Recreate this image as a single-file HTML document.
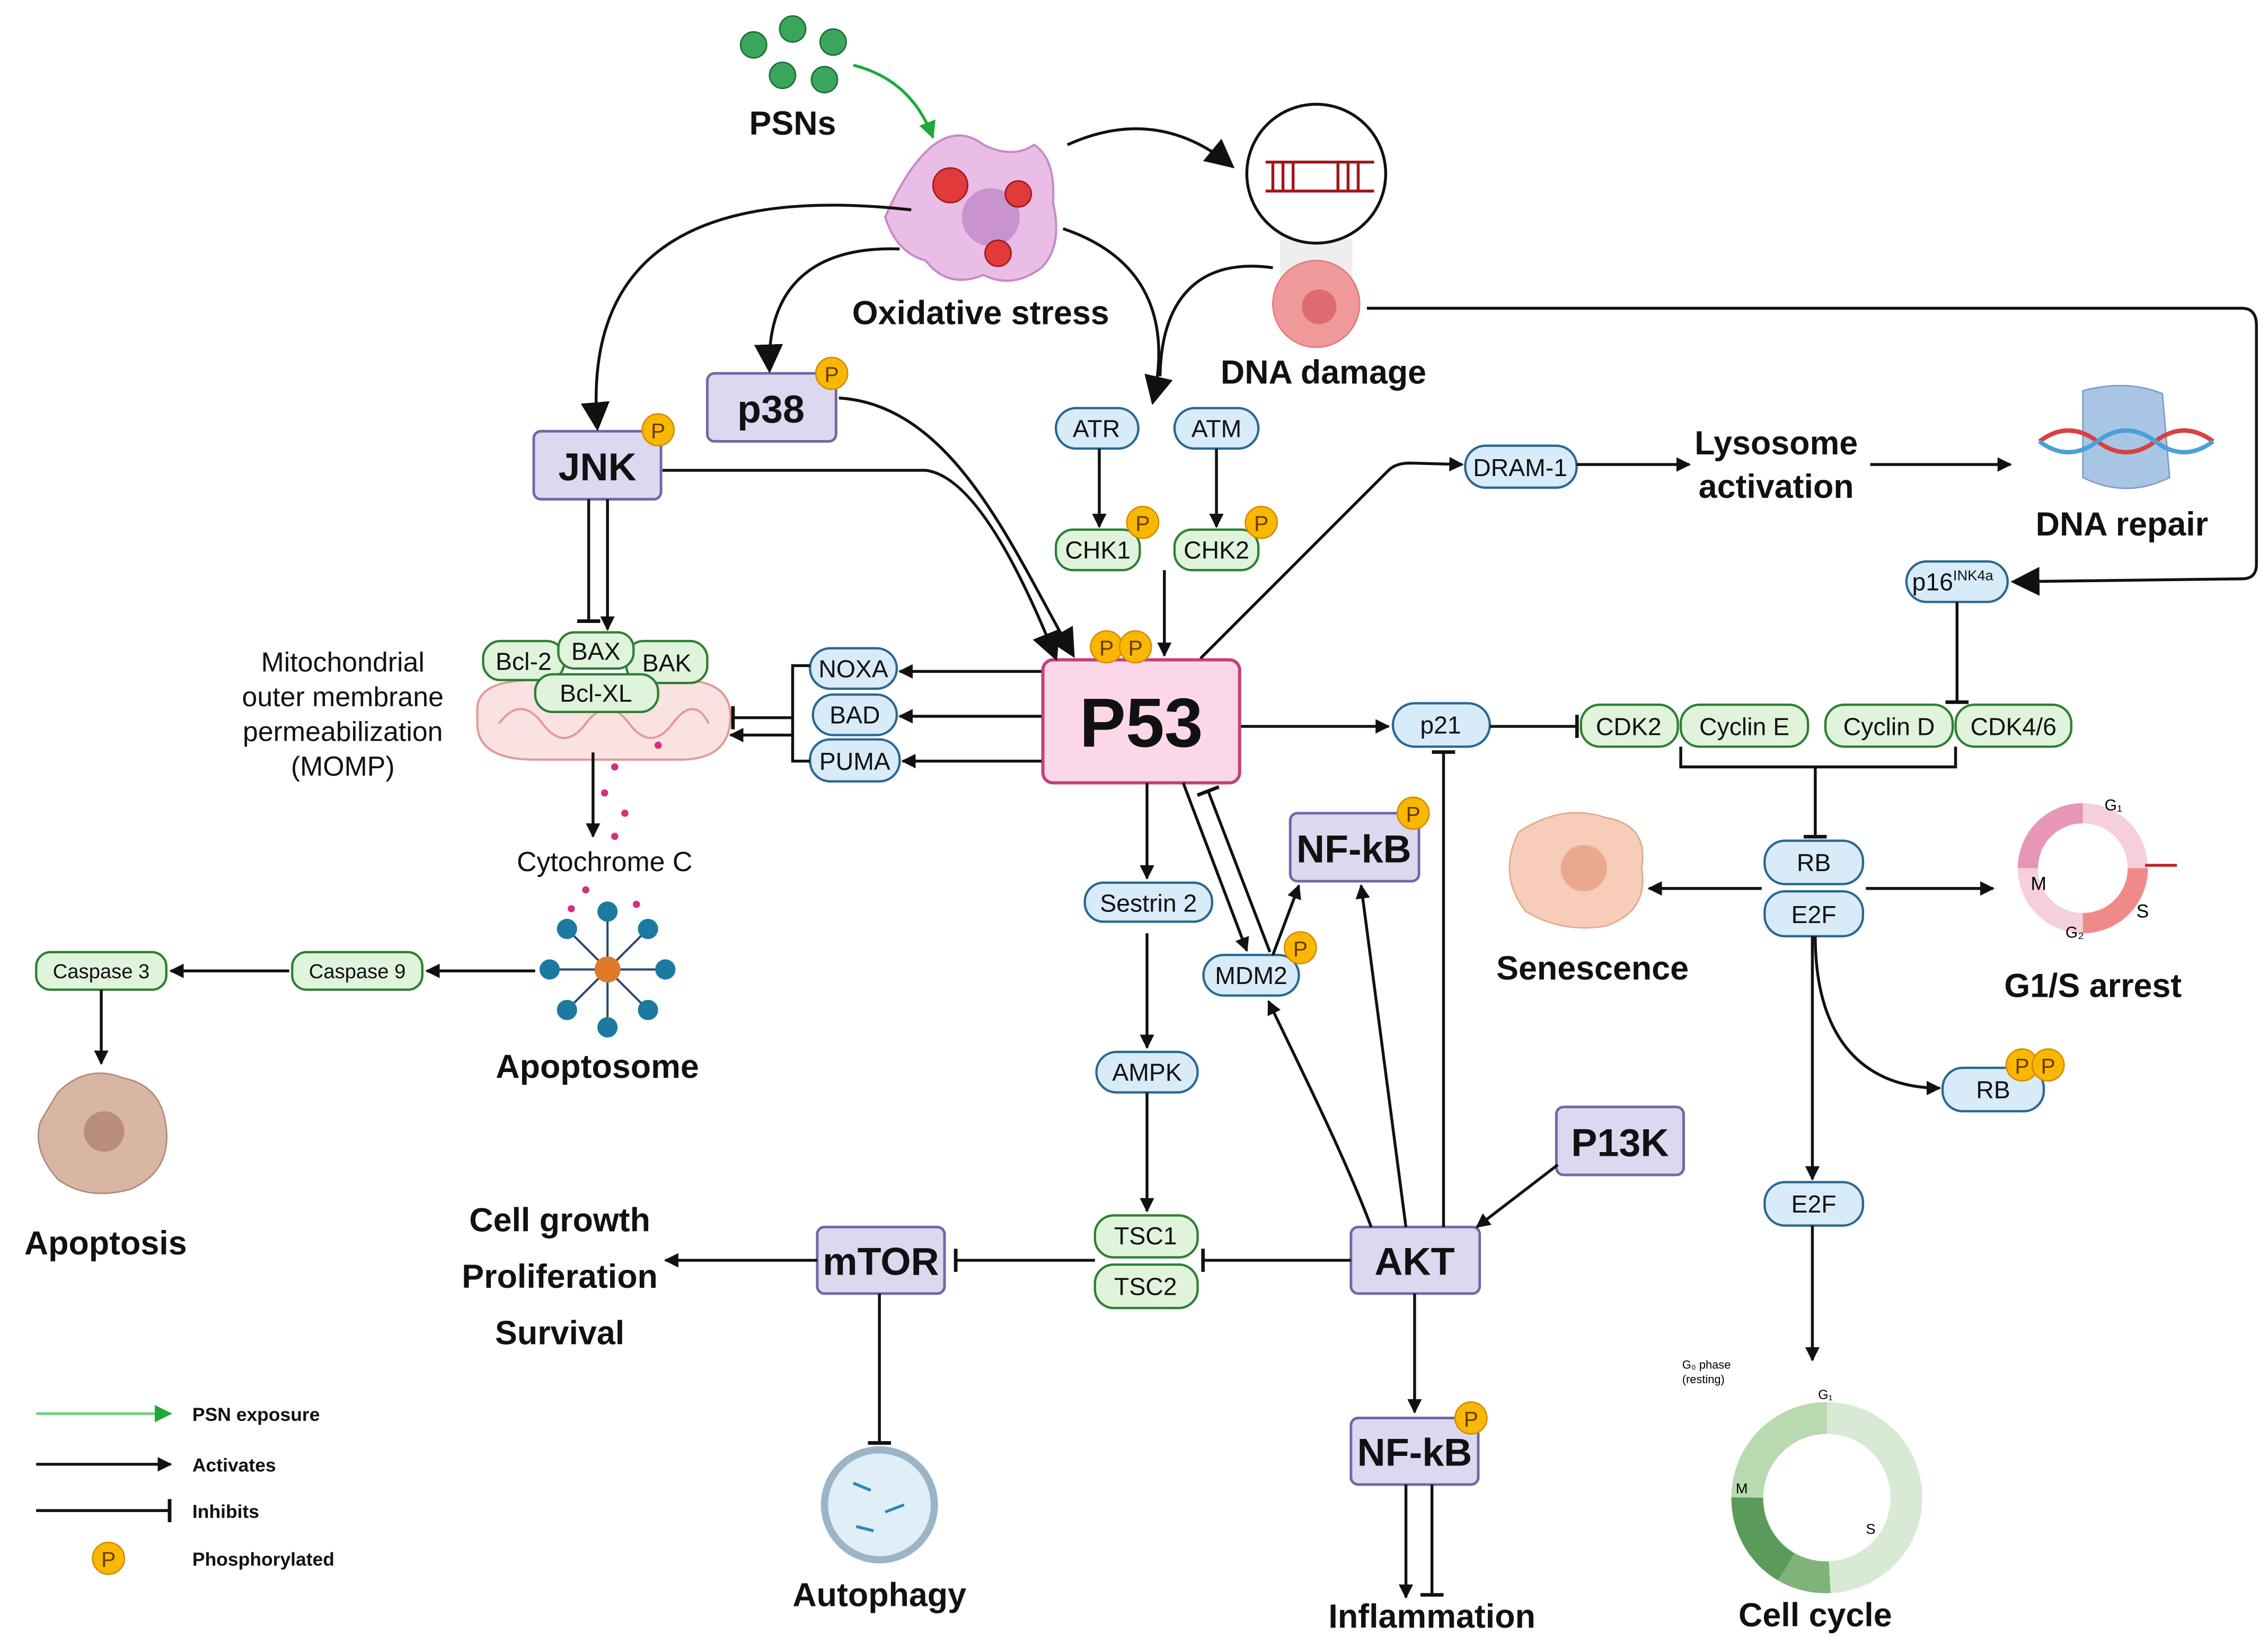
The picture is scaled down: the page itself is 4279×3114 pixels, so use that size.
<!DOCTYPE html>
<html><head><meta charset="utf-8"><style>
html,body{margin:0;padding:0;background:#fff;}
svg{display:block;}
text{font-family:"Liberation Sans",sans-serif;}
.b{font-weight:bold;fill:#111;font-size:23px;text-anchor:middle;}
.n{font-size:17px;fill:#111;text-anchor:middle;}
.blue{fill:#d8ebf8;stroke:#2a6892;stroke-width:1.6;}
.green{fill:#e0f4dc;stroke:#2f7f34;stroke-width:1.6;}
.purp{fill:#dcd8ef;stroke:#6d68a6;stroke-width:1.8;}
.l{fill:none;stroke:#111;stroke-width:2;}
</style></head><body>
<svg width="4279" height="3114" viewBox="0 0 1568 1141" xmlns="http://www.w3.org/2000/svg">
<defs>
<marker id="a" markerWidth="10" markerHeight="10" refX="9" refY="5" orient="auto" markerUnits="userSpaceOnUse"><path d="M0,0 L10,5 L0,10 z" fill="#111"/></marker>
<marker id="A" markerWidth="20" markerHeight="20" refX="18" refY="10" orient="auto" markerUnits="userSpaceOnUse"><path d="M0,0 L20,10 L0,20 z" fill="#111"/></marker>
<marker id="g" markerWidth="12" markerHeight="12" refX="11" refY="6" orient="auto" markerUnits="userSpaceOnUse"><path d="M0,0 L12,6 L0,12 z" fill="#1fa83a"/></marker>
<marker id="t" markerWidth="4" markerHeight="16" refX="2" refY="8" orient="auto" markerUnits="userSpaceOnUse"><rect x="0" y="0" width="2.5" height="16" fill="#111"/></marker>
<g id="P"><circle r="11" fill="#f9b800" stroke="#d98a00" stroke-width="1"/><text y="6" style="font-size:15px" text-anchor="middle" fill="#6b3a00">P</text></g>
</defs>

<!-- PSNs -->
<g fill="#3aa65c" stroke="#1a6e36">
<circle cx="521" cy="31" r="9"/><circle cx="548" cy="20" r="9"/><circle cx="576" cy="29" r="9"/>
<circle cx="541" cy="52" r="9"/><circle cx="570" cy="55" r="9"/></g>
<text class="b" x="548" y="93">PSNs</text>
<path d="M590,45 Q630,55 645,95" fill="none" stroke="#1fa83a" stroke-width="2" marker-end="url(#g)"/>

<!-- oxidative stress cell -->
<path d="M640,105 Q660,85 680,100 Q700,110 715,100 Q730,110 728,140 Q735,170 720,185 Q700,200 680,190 Q655,200 640,180 Q620,175 612,150 Q625,120 640,105 z" fill="#e9bde6" stroke="#c889c6" stroke-width="1.5"/>
<circle cx="685" cy="150" r="20" fill="#c993cf"/>
<g fill="#e03a3a" stroke="#a01818"><circle cx="657" cy="128" r="12"/><circle cx="704" cy="134" r="9"/><circle cx="690" cy="175" r="9"/></g>
<text class="b" x="678" y="224">Oxidative stress</text>

<!-- DNA damage -->
<path d="M885,165 L935,165 L935,200 L885,200 z" fill="#ddd" opacity="0.5"/>
<circle cx="910" cy="120" r="48" fill="#fff" stroke="#111" stroke-width="2"/>
<g stroke="#a01818" stroke-width="2"><line x1="875" y1="112" x2="950" y2="112"/><line x1="875" y1="132" x2="950" y2="132"/>
<line x1="880" y1="112" x2="880" y2="132"/><line x1="887" y1="112" x2="887" y2="132"/><line x1="894" y1="112" x2="894" y2="132"/><line x1="925" y1="112" x2="925" y2="132"/><line x1="932" y1="112" x2="932" y2="132"/><line x1="939" y1="112" x2="939" y2="132"/></g>
<circle cx="910" cy="210" r="30" fill="#f0999b" stroke="#e07a7c"/>
<circle cx="912" cy="212" r="12" fill="#de6b70"/>
<text class="b" x="915" y="265">DNA damage</text>

<!-- boxes purple -->
<rect class="purp" x="489" y="258" width="89" height="47" rx="5"/><text class="b" x="533" y="292" style="font-size:27px">p38</text>
<use href="#P" x="575" y="258"/>
<rect class="purp" x="369" y="298" width="88" height="47" rx="5"/><text class="b" x="413" y="332" style="font-size:27px">JNK</text>
<use href="#P" x="455" y="297"/>
<rect class="purp" x="892" y="562" width="89" height="47" rx="5"/><text class="b" x="936" y="596" style="font-size:27px">NF-kB</text>
<use href="#P" x="977" y="562"/>
<rect class="purp" x="1076" y="765" width="88" height="47" rx="5"/><text class="b" x="1120" y="799" style="font-size:27px">P13K</text>
<rect class="purp" x="934" y="848" width="89" height="46" rx="5"/><text class="b" x="978" y="881" style="font-size:27px">AKT</text>
<rect class="purp" x="565" y="848" width="88" height="46" rx="5"/><text class="b" x="609" y="881" style="font-size:27px">mTOR</text>
<rect class="purp" x="934" y="980" width="88" height="46" rx="5"/><text class="b" x="978" y="1013" style="font-size:27px">NF-kB</text>
<use href="#P" x="1017" y="980"/>

<!-- P53 -->
<rect x="721" y="456" width="136" height="85" rx="7" fill="#fbd7e9" stroke="#c2407a" stroke-width="2.2"/>
<text class="b" x="789" y="516" style="font-size:48px">P53</text>
<use href="#P" x="765" y="447"/><use href="#P" x="785" y="447"/>

<!-- blue pills -->
<rect class="blue" x="730" y="282" width="57" height="28" rx="14"/><text class="n" x="758" y="302">ATR</text>
<rect class="blue" x="812" y="282" width="58" height="28" rx="14"/><text class="n" x="841" y="302">ATM</text>
<rect class="blue" x="1013" y="308" width="77" height="29" rx="14"/><text class="n" x="1051" y="329">DRAM-1</text>
<rect class="blue" x="1318" y="388" width="70" height="28" rx="14"/><text class="n" x="1350" y="408">p16<tspan style="font-size:10px" dy="-7">INK4a</tspan></text>
<rect class="blue" x="560" y="448" width="60" height="28" rx="14"/><text class="n" x="590" y="468">NOXA</text>
<rect class="blue" x="562" y="480" width="58" height="28" rx="14"/><text class="n" x="591" y="500">BAD</text>
<rect class="blue" x="560" y="511" width="62" height="29" rx="14"/><text class="n" x="591" y="532">PUMA</text>
<rect class="blue" x="963" y="486" width="67" height="30" rx="15"/><text class="n" x="996" y="507">p21</text>
<rect class="blue" x="1220" y="581" width="68" height="30" rx="14"/><text class="n" x="1254" y="602">RB</text>
<rect class="blue" x="1220" y="616" width="68" height="31" rx="14"/><text class="n" x="1254" y="638">E2F</text>
<rect class="blue" x="1343" y="738" width="70" height="30" rx="14"/><text class="n" x="1378" y="759">RB</text>
<use href="#P" x="1398" y="736"/><use href="#P" x="1416" y="736"/>
<rect class="blue" x="1220" y="817" width="68" height="30" rx="14"/><text class="n" x="1254" y="838">E2F</text>
<rect class="blue" x="750" y="610" width="88" height="27" rx="13"/><text class="n" x="794" y="630">Sestrin 2</text>
<rect class="blue" x="758" y="727" width="70" height="28" rx="14"/><text class="n" x="793" y="747">AMPK</text>
<rect class="blue" x="832" y="660" width="66" height="28" rx="14"/><text class="n" x="865" y="680">MDM2</text>
<use href="#P" x="899" y="655"/>

<!-- green pills -->
<rect class="green" x="730" y="366" width="58" height="28" rx="12"/><text class="n" x="759" y="386">CHK1</text>
<use href="#P" x="790" y="361"/>
<rect class="green" x="812" y="366" width="58" height="28" rx="12"/><text class="n" x="841" y="386">CHK2</text>
<use href="#P" x="872" y="361"/>
<rect class="green" x="1093" y="487" width="67" height="29" rx="13"/><text class="n" x="1126" y="508">CDK2</text>
<rect class="green" x="1162" y="487" width="88" height="29" rx="13"/><text class="n" x="1206" y="508">Cyclin E</text>
<rect class="green" x="1262" y="487" width="88" height="29" rx="13"/><text class="n" x="1306" y="508">Cyclin D</text>
<rect class="green" x="1352" y="487" width="80" height="29" rx="13"/><text class="n" x="1392" y="508">CDK4/6</text>
<rect class="green" x="757" y="840" width="71" height="29" rx="13"/><text class="n" x="792" y="860">TSC1</text>
<rect class="green" x="757" y="874" width="71" height="30" rx="13"/><text class="n" x="792" y="895">TSC2</text>
<rect class="green" x="202" y="658" width="90" height="26" rx="10"/><text class="n" x="247" y="676" style="font-size:14px">Caspase 9</text>
<rect class="green" x="25" y="658" width="90" height="26" rx="10"/><text class="n" x="70" y="676" style="font-size:14px">Caspase 3</text>

<!-- mitochondria -->
<path d="M330,490 Q330,470 370,470 L470,470 Q505,470 505,495 Q505,525 470,525 L370,525 Q330,525 330,500 z" fill="#fbe2e2" stroke="#e39a9a" stroke-width="1.5"/>
<path d="M345,500 Q360,480 375,500 Q390,520 405,500 Q420,480 435,500 Q450,520 465,500 Q480,480 490,500" fill="none" stroke="#e39a9a" stroke-width="1.5"/>
<rect class="green" x="334" y="443" width="56" height="27" rx="12"/><text class="n" x="362" y="463">Bcl-2</text>
<rect class="green" x="433" y="443" width="56" height="29" rx="12"/><text class="n" x="461" y="464">BAK</text>
<rect class="green" x="370" y="466" width="85" height="26" rx="12"/><text class="n" x="412" y="485">Bcl-XL</text>
<rect class="green" x="386" y="437" width="52" height="25" rx="11"/><text class="n" x="412" y="456">BAX</text>
<g fill="#d4317e"><circle cx="425" cy="530" r="2.5"/><circle cx="418" cy="548" r="2.5"/><circle cx="432" cy="562" r="2.5"/><circle cx="425" cy="578" r="2.5"/><circle cx="405" cy="615" r="2.5"/><circle cx="395" cy="628" r="2.5"/><circle cx="440" cy="625" r="2.5"/><circle cx="455" cy="515" r="2.5"/></g>
<text class="n" x="237" y="464" style="font-size:19px">Mitochondrial</text>
<text class="n" x="237" y="488" style="font-size:19px">outer membrane</text>
<text class="n" x="237" y="512" style="font-size:19px">permeabilization</text>
<text class="n" x="237" y="536" style="font-size:19px">(MOMP)</text>
<text class="n" x="418" y="602" style="font-size:19px">Cytochrome C</text>

<!-- apoptosome -->
<g stroke="#2a4a6e" stroke-width="1.5">
<line x1="380" y1="670" x2="460" y2="670"/><line x1="420" y1="630" x2="420" y2="710"/><line x1="392" y1="642" x2="448" y2="698"/><line x1="392" y1="698" x2="448" y2="642"/></g>
<g fill="#1c7aa0"><circle cx="380" cy="670" r="7"/><circle cx="460" cy="670" r="7"/><circle cx="420" cy="630" r="7"/><circle cx="420" cy="710" r="7"/><circle cx="392" cy="642" r="7"/><circle cx="448" cy="698" r="7"/><circle cx="392" cy="698" r="7"/><circle cx="448" cy="642" r="7"/></g>
<circle cx="420" cy="670" r="9" fill="#e07a2a"/>
<text class="b" x="413" y="745">Apoptosome</text>

<!-- apoptosis cell -->
<path d="M40,755 Q60,735 85,745 Q112,750 115,780 Q118,810 90,822 Q60,830 40,815 Q22,795 28,775 z" fill="#d9b5a3" stroke="#b08a78"/>
<circle cx="72" cy="782" r="14" fill="#b88d7d"/>
<text class="b" x="73" y="867">Apoptosis</text>

<!-- Lysosome / DNA repair -->
<text class="b" x="1228" y="314">Lysosome</text>
<text class="b" x="1228" y="344">activation</text>
<path d="M1440,270 Q1470,262 1495,272 L1500,330 Q1470,345 1440,330 z" fill="#a9c5e4" stroke="#7d9cc6"/>
<path d="M1410,305 Q1430,290 1450,305 T1490,305 T1530,305" fill="none" stroke="#d94040" stroke-width="3"/>
<path d="M1410,305 Q1430,320 1450,305 T1490,305 T1530,305" fill="none" stroke="#4aa0d8" stroke-width="3"/>
<text class="b" x="1467" y="370">DNA repair</text>

<!-- senescence, G1/S -->
<path d="M1050,575 Q1080,555 1110,565 Q1140,570 1135,600 Q1140,630 1110,640 Q1080,645 1055,630 Q1035,605 1050,575 z" fill="#f5cdb8" stroke="#e0a98a"/>
<circle cx="1095" cy="600" r="16" fill="#eaa98f"/>
<text class="b" x="1101" y="677">Senescence</text>
<circle cx="1440" cy="600" r="38" fill="none" stroke="#f5d0dc" stroke-width="14"/>
<path d="M1402,600 A38,38 0 0,1 1440,562" fill="none" stroke="#e896b7" stroke-width="14"/>
<path d="M1478,600 A38,38 0 0,1 1440,638" fill="none" stroke="#f08a8a" stroke-width="14"/>
<line x1="1483" y1="598" x2="1505" y2="598" stroke="#c02020" stroke-width="2"/>
<text x="1404" y="615" style="font-size:13px">M</text><text x="1477" y="634" style="font-size:13px">S</text><text x="1455" y="560" style="font-size:11px">G₁</text><text x="1428" y="648" style="font-size:11px">G₂</text>
<text class="b" x="1447" y="689">G1/S arrest</text>

<!-- cell cycle -->
<circle cx="1263" cy="1035" r="55" fill="none" stroke="#d8ead3" stroke-width="22"/>
<path d="M1208,1035 A55,55 0 0,1 1263,980" fill="none" stroke="#b9d9b0" stroke-width="22"/>
<path d="M1208,1035 A55,55 0 0,0 1235,1083" fill="none" stroke="#5a9a5a" stroke-width="22"/>
<path d="M1235,1083 A55,55 0 0,0 1265,1090" fill="none" stroke="#7fb37a" stroke-width="22"/>
<text x="1200" y="1032" style="font-size:10px">M</text><text x="1290" y="1060" style="font-size:10px">S</text><text x="1257" y="967" style="font-size:9px">G₁</text>
<text x="1163" y="946" style="font-size:8px">G₀ phase</text><text x="1163" y="956" style="font-size:8px">(resting)</text>
<text class="b" x="1255" y="1124">Cell cycle</text>

<!-- autophagy -->
<circle cx="608" cy="1040" r="38" fill="#dfeef7" stroke="#9bb5c6" stroke-width="5"/>
<g stroke="#2a8ab0" stroke-width="2"><line x1="590" y1="1025" x2="602" y2="1030"/><line x1="612" y1="1045" x2="625" y2="1040"/><line x1="592" y1="1055" x2="604" y2="1058"/></g>
<text class="b" x="608" y="1110">Autophagy</text>
<text class="b" x="990" y="1125">Inflammation</text>
<text class="b" x="387" y="851">Cell growth</text>
<text class="b" x="387" y="890">Proliferation</text>
<text class="b" x="387" y="929">Survival</text>

<!-- connectors -->
<path class="l" d="M738,100 Q800,72 852,115" marker-end="url(#A)"/>
<path class="l" d="M630,145 C450,125 405,200 413,296" marker-end="url(#A)"/>
<path class="l" d="M622,172 C560,170 530,200 532,256" stroke-width="2.5" marker-end="url(#A)"/>
<path class="l" d="M735,158 C800,180 808,230 797,278" marker-end="url(#A)"/>
<path class="l" d="M880,185 C830,178 803,205 802,260"/>
<path class="l" d="M945,213 L1550,213 Q1560,213 1560,225 L1560,390 Q1560,400 1550,400 L1392,402" marker-end="url(#A)"/>
<path class="l" d="M458,325 L640,325 Q680,330 730,455" marker-end="url(#A)"/>
<path class="l" d="M580,275 C660,280 700,380 742,453" marker-end="url(#A)"/>
<path class="l" d="M760,310 L760,364" marker-end="url(#a)"/>
<path class="l" d="M841,310 L841,364" marker-end="url(#a)"/>
<path class="l" d="M805,394 L805,453" marker-end="url(#a)"/>
<path class="l" d="M830,455 L960,325 Q965,320 975,320 L1011,321" marker-end="url(#a)"/>
<path class="l" d="M1090,321 L1168,321" marker-end="url(#a)"/>
<path class="l" d="M1293,321 L1390,321" marker-end="url(#a)"/>
<path class="l" d="M1353,416 L1353,486" marker-end="url(#t)"/>
<path class="l" d="M858,502 L960,502" marker-end="url(#a)"/>
<path class="l" d="M1030,502 L1091,502" marker-end="url(#t)"/>
<path class="l" d="M1162,516 L1162,530 L1352,530 L1352,516"/>
<path class="l" d="M1255,530 L1255,579" marker-end="url(#t)"/>
<path class="l" d="M1218,614 L1140,614" marker-end="url(#a)"/>
<path class="l" d="M1290,614 L1378,614" marker-end="url(#a)"/>
<path class="l" d="M1255,647 C1255,720 1290,752 1341,752" marker-end="url(#a)"/>
<path class="l" d="M1253,647 L1253,815" marker-end="url(#a)"/>
<path class="l" d="M1253,847 L1253,940" marker-end="url(#a)"/>
<path class="l" d="M720,464 L622,464" marker-end="url(#a)"/>
<path class="l" d="M720,495 L622,495" marker-end="url(#a)"/>
<path class="l" d="M720,526 L624,526" marker-end="url(#a)"/>
<path class="l" d="M560,460 L548,460 L548,526 L560,526"/>
<path class="l" d="M548,496 L506,496" marker-end="url(#t)"/>
<path class="l" d="M548,508 L505,508" marker-end="url(#a)"/>
<path class="l" d="M407,345 L407,430" marker-end="url(#t)"/>
<path class="l" d="M420,345 L420,435" marker-end="url(#a)"/>
<path class="l" d="M410,520 L410,578" marker-end="url(#a)"/>
<path class="l" d="M370,671 L295,671" marker-end="url(#a)"/>
<path class="l" d="M200,671 L118,671" marker-end="url(#a)"/>
<path class="l" d="M70,684 L70,735" marker-end="url(#a)"/>
<path class="l" d="M793,541 L793,607" marker-end="url(#a)"/>
<path class="l" d="M793,645 L793,724" marker-end="url(#a)"/>
<path class="l" d="M793,755 L793,837" marker-end="url(#a)"/>
<path class="l" d="M818,541 L862,657" marker-end="url(#a)"/>
<path class="l" d="M878,658 L835,546" marker-end="url(#t)"/>
<path class="l" d="M880,660 L898,612" marker-end="url(#a)"/>
<path class="l" d="M948,848 C930,800 900,740 877,692" marker-end="url(#a)"/>
<path class="l" d="M972,848 L941,612" marker-end="url(#a)"/>
<path class="l" d="M998,848 L998,519" marker-end="url(#t)"/>
<path class="l" d="M1077,805 L1021,848" marker-end="url(#a)"/>
<path class="l" d="M934,871 L831,871" marker-end="url(#t)"/>
<path class="l" d="M757,871 L660,871" marker-end="url(#t)"/>
<path class="l" d="M565,871 L460,871" marker-end="url(#a)"/>
<path class="l" d="M608,894 L608,998" marker-end="url(#t)"/>
<path class="l" d="M978,894 L978,976" marker-end="url(#a)"/>
<path class="l" d="M972,1026 L972,1104" marker-end="url(#a)"/>
<path class="l" d="M990,1026 L990,1103" marker-end="url(#t)"/>

<!-- legend -->
<path d="M25,977 L118,977" stroke="#7ccf8a" stroke-width="2" marker-end="url(#g)"/>
<path class="l" d="M25,1012 L118,1012" marker-end="url(#a)"/>
<path class="l" d="M25,1044 L118,1044" marker-end="url(#t)"/>
<use href="#P" x="75" y="1077"/>
<g style="font-size:13px;font-weight:bold" fill="#111">
<text x="133" y="982">PSN exposure</text><text x="133" y="1017">Activates</text><text x="133" y="1049">Inhibits</text><text x="133" y="1082">Phosphorylated</text></g>
</svg>
</body></html>
